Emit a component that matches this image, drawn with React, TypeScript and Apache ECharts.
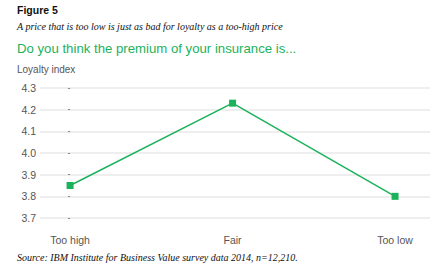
import React, { useEffect, useRef } from "react";
import * as echarts from "echarts";

const categories = ["Too high", "Fair", "Too low"];
const loyalty = [3.85, 4.23, 3.8];
const yTicks = [3.7, 3.8, 3.9, 4.0, 4.1, 4.2, 4.3];

const GREEN = "#1cb25b";
const SANS = "'Liberation Sans', Arial, sans-serif";
const SERIF = "'Liberation Serif', 'Times New Roman', serif";

export default function App() {
  const ref = useRef<HTMLDivElement>(null);
  useEffect(() => {
    const chart = echarts.init(ref.current!, null, { renderer: "svg" });
    chart.setOption({
      animation: false,
      backgroundColor: "#ffffff",
      grid: { left: 40, right: 2, top: 88, bottom: 46 },
      xAxis: {
        type: "value",
        min: -0.185,
        max: 2.215,
        axisLine: { show: false },
        axisTick: { show: false },
        splitLine: { show: false },
        axisLabel: {
          customValues: [0, 1, 2],
          formatter: (v: number) => categories[Math.round(v)] ?? "",
          color: "#555",
          fontSize: 10.5,
          fontFamily: SANS,
          margin: 16,
        },
      },
      yAxis: {
        type: "value",
        min: yTicks[0],
        max: yTicks[yTicks.length - 1],
        interval: 0.1,
        axisLine: { show: false },
        axisTick: { show: true, length: 2, lineStyle: { color: "#888" } },
        axisLabel: {
          formatter: (v: number) => v.toFixed(1),
          color: "#555",
          fontSize: 10.5,
          fontFamily: SANS,
          margin: 4,
        },
        splitLine: { lineStyle: { color: "#e8e8e8", width: 1.5 } },
      },
      series: [
        {
          type: "line",
          data: loyalty.map((v, i) => [i, v]),
          symbol: "rect",
          symbolSize: 7,
          itemStyle: { color: GREEN },
          lineStyle: { color: GREEN, width: 1.5 },
        },
      ],
      graphic: [
        { type: "text", left: 17, top: 4, style: { text: "Figure 5", font: `bold 10.5px ${SANS}`, fill: "#111" } },
        { type: "text", left: 17, top: 21, style: { text: "A price that is too low is just as bad for loyalty as a too-high price", font: `italic 10px ${SERIF}`, fill: "#111" } },
        { type: "text", left: 17, top: 42, style: { text: "Do you think the premium of your insurance is...", font: `13.2px ${SANS}`, fill: GREEN } },
        { type: "text", left: 17, top: 64, style: { text: "Loyalty index", font: `10px ${SANS}`, fill: "#555" } },
        { type: "text", left: 17, top: 252, style: { text: "Source: IBM Institute for Business Value survey data 2014, n=12,210.", font: `italic 10px ${SERIF}`, fill: "#111" } },
      ],
    });
    return () => chart.dispose();
  }, []);
  return <div ref={ref} style={{ width: 432, height: 264, position: "absolute", left: 0, top: 0 }} />;
}
